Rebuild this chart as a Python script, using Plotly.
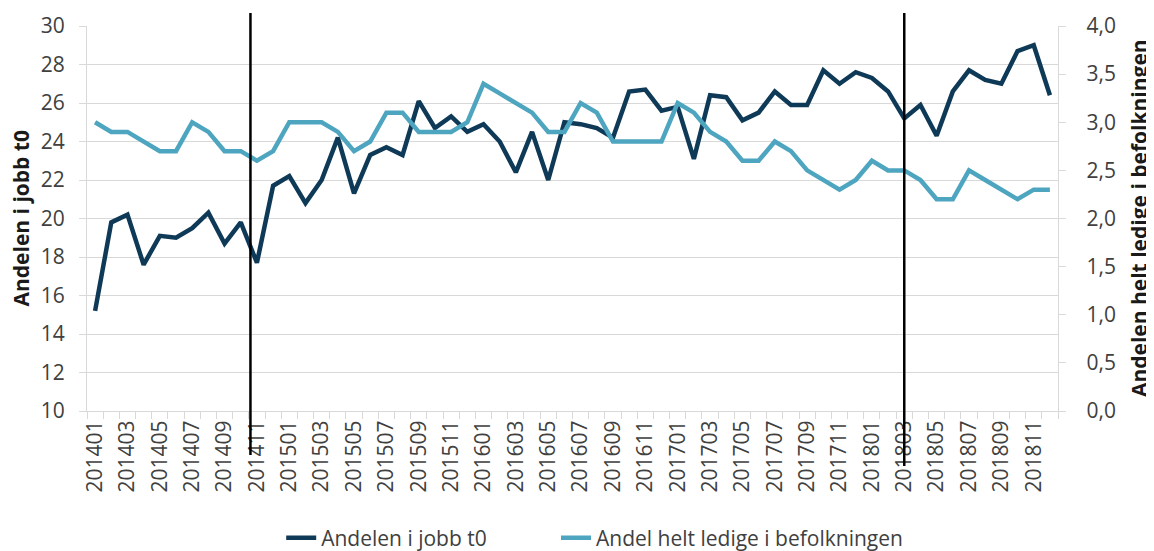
import plotly.graph_objects as go

months = [f"{y}{m:02d}" for y in range(2014, 2019) for m in range(1, 13)]
tick_labels = [m if i % 2 == 0 else "" for i, m in enumerate(months)]

jobb = [15.2, 19.8, 20.2, 17.6, 19.1, 19.0, 19.5, 20.3, 18.7, 19.8,
        17.7, 21.7, 22.2, 20.8, 22.0, 24.2, 21.3, 23.3, 23.7, 23.3,
        26.1, 24.7, 25.3, 24.5, 24.9, 24.0, 22.4, 24.5, 22.0, 25.0,
        24.9, 24.7, 24.2, 26.6, 26.7, 25.6, 25.8, 23.1, 26.4, 26.3,
        25.1, 25.5, 26.6, 25.9, 25.9, 27.7, 27.0, 27.6, 27.3, 26.6,
        25.2, 25.9, 24.3, 26.6, 27.7, 27.2, 27.0, 28.7, 29.0, 26.4]

ledige = [3.0, 2.9, 2.9, 2.8, 2.7, 2.7, 3.0, 2.9, 2.7, 2.7,
          2.6, 2.7, 3.0, 3.0, 3.0, 2.9, 2.7, 2.8, 3.1, 3.1,
          2.9, 2.9, 2.9, 3.0, 3.4, 3.3, 3.2, 3.1, 2.9, 2.9,
          3.2, 3.1, 2.8, 2.8, 2.8, 2.8, 3.2, 3.1, 2.9, 2.8,
          2.6, 2.6, 2.8, 2.7, 2.5, 2.4, 2.3, 2.4, 2.6, 2.5,
          2.5, 2.4, 2.2, 2.2, 2.5, 2.4, 2.3, 2.2, 2.3, 2.3]

left_title = "Andelen i jobb t0"
right_title = "Andelen helt ledige i befolkningen"

# vertical marker lines (category index positions)
marker_x = [9.6, 50.0]
marker_bottom = [-0.114, -0.143]

DARK = "#0f3a57"
LIGHT = "#4ea5bf"
GRID = "#d9d9d9"
TXT = "#404040"
TITLE = "#1a1a1a"
FONT = "Open Sans"

fig = go.Figure()
fig.add_trace(go.Scatter(x=months, y=jobb, mode="lines", name="Andelen i jobb t0",
                         line=dict(color=DARK, width=4.5), yaxis="y", legend="legend"))
fig.add_trace(go.Scatter(x=months, y=ledige, mode="lines", name="Andel helt ledige i befolkningen",
                         line=dict(color=LIGHT, width=4.5), yaxis="y2", legend="legend2"))

for xv, yb in zip(marker_x, marker_bottom):
    fig.add_shape(type="line", xref="x", yref="paper", x0=xv, x1=xv, y0=yb, y1=1.034,
                  line=dict(color="black", width=2.5), layer="above")

fig.add_annotation(text=f"<b>{left_title}</b>", xref="paper", yref="paper",
                   x=-0.069, y=0.5, xanchor="center", yanchor="middle", textangle=-90,
                   showarrow=False, font=dict(family=FONT, size=21, color=TITLE))
fig.add_annotation(text=f"<b>{right_title}</b>", xref="paper", yref="paper",
                   x=1.083, y=0.5, xanchor="center", yanchor="middle", textangle=-90,
                   showarrow=False, font=dict(family=FONT, size=21, color=TITLE))

legend_style = dict(orientation="h", xanchor="left", y=-0.33, yanchor="middle",
                    font=dict(family=FONT, size=21, color=TXT), bgcolor="rgba(0,0,0,0)")

# page has an 8px body margin, so the figure is 8px smaller than the window
fig.update_layout(
    width=1146, height=543,
    margin=dict(l=79, r=96, t=18, b=140, autoexpand=False),
    paper_bgcolor="white", plot_bgcolor="white",
    separators=", ",
    font=dict(family=FONT, size=21, color=TXT),
    showlegend=True,
    legend=dict(x=0.2, **legend_style),
    legend2=dict(x=0.483, **legend_style),
    xaxis=dict(type="category", range=[-0.5, 59.5], tickmode="array",
               tickvals=months, ticktext=tick_labels, tickangle=-90,
               tickson="boundaries", ticks="outside", ticklen=7, tickcolor=GRID,
               showgrid=False, showline=True, linecolor=GRID, linewidth=1,
               automargin=False,
               tickfont=dict(family=FONT, size=21, color=TXT)),
    yaxis=dict(range=[10, 30], dtick=2, tick0=10, showgrid=True, gridcolor=GRID, gridwidth=1,
               showline=True, linecolor=GRID, ticks="outside", ticklen=7, tickcolor=GRID,
               zeroline=False, automargin=False, ticklabelstandoff=10,
               tickfont=dict(family=FONT, size=21, color=TXT)),
    yaxis2=dict(range=[0, 4], dtick=0.5, tick0=0, tickformat=".1f", overlaying="y", side="right",
                showgrid=False, showline=True, linecolor=GRID, ticks="outside", ticklen=7,
                tickcolor=GRID, zeroline=False, automargin=False,
                tickprefix="\u00a0\u00a0\u00a0",
                tickfont=dict(family=FONT, size=21, color=TXT)),
)

fig.write_html("out.html")
